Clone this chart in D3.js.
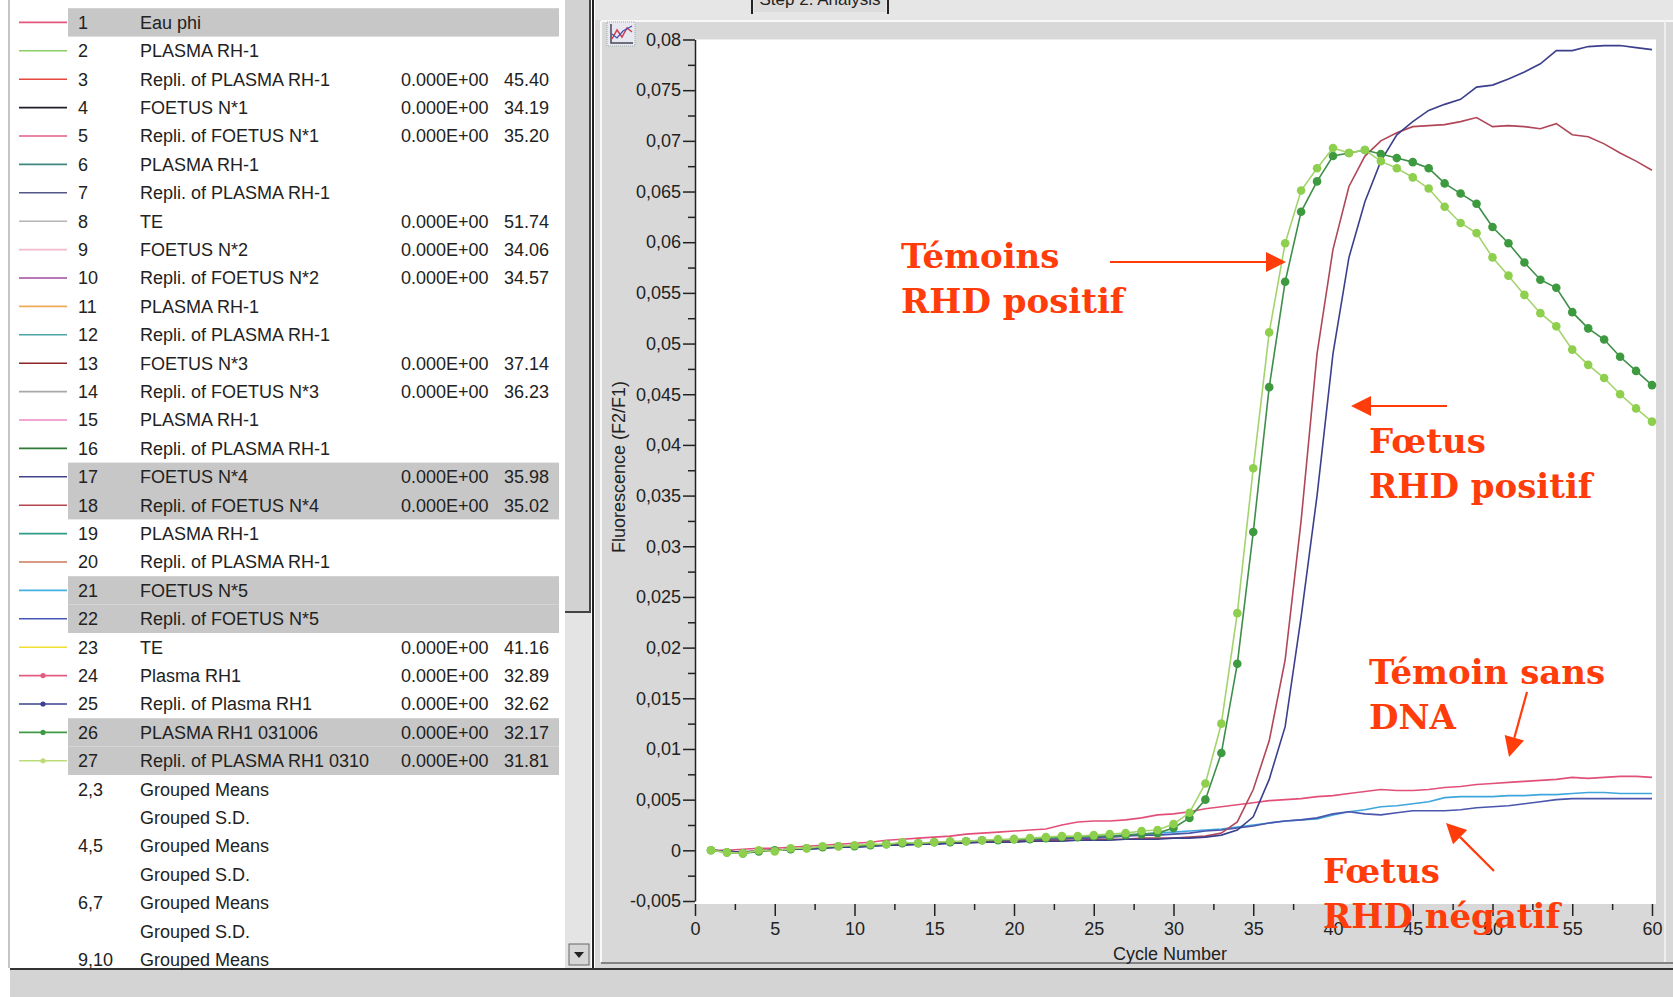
<!DOCTYPE html>
<html>
<head>
<meta charset="utf-8">
<script src="https://cdn.jsdelivr.net/npm/d3@7"></script>
<style>
  html, body { margin: 0; padding: 0; background: #fff; }
  svg { display: block; }
  .ui { font-family: "Liberation Sans", Arial, sans-serif; fill: #222; }
  .note { font-family: "DejaVu Serif", serif; font-weight: bold; fill: #ff3c0a; }
</style>
</head>
<body>
<svg id="chart" width="1673" height="997"></svg>
<script>
// cycles 1..60
var cycles = d3.range(1, 61);

// fluorescence F2/F1, one value per cycle
var eauPhi = [0, 0, 0.0001, 0.0002, 0.0002, 0.0003, 0.0004, 0.0005, 0.0006, 0.0007,
  0.0008, 0.0010, 0.0011, 0.0012, 0.0013, 0.0014, 0.0016, 0.0017, 0.0018, 0.0019,
  0.0020, 0.0021, 0.0025, 0.0028, 0.0029, 0.0029, 0.0030, 0.0032, 0.0035, 0.0036,
  0.0038, 0.0041, 0.0043, 0.0045, 0.0047, 0.0049, 0.0050, 0.0051, 0.0053, 0.0054,
  0.0056, 0.0058, 0.0060, 0.0059, 0.0059, 0.0060, 0.0062, 0.0063, 0.0065, 0.0066,
  0.0067, 0.0068, 0.0069, 0.0070, 0.0072, 0.0071, 0.0072, 0.0073, 0.0073, 0.0072];

var foetus4 = [0, -0.0001, -0.0002, -0.0001, 0, 0.0001, 0.0001, 0.0002, 0.0003, 0.0003,
  0.0004, 0.0005, 0.0005, 0.0006, 0.0006, 0.0007, 0.0007, 0.0008, 0.0008, 0.0008,
  0.0009, 0.0009, 0.0009, 0.0010, 0.0010, 0.0010, 0.0011, 0.0011, 0.0011, 0.0012,
  0.0012, 0.0013, 0.0015, 0.0020, 0.0033, 0.0070, 0.0122, 0.0230, 0.0350, 0.0490,
  0.0585, 0.0640, 0.0680, 0.0706, 0.0719, 0.0730, 0.0736, 0.0741, 0.0753, 0.0755,
  0.0761, 0.0768, 0.0776, 0.0789, 0.0789, 0.0793, 0.0794, 0.0794, 0.0792, 0.0790];

var foetus4Repli = [0, -0.0001, -0.0002, 0, 0, 0.0001, 0.0002, 0.0003, 0.0003, 0.0004,
  0.0005, 0.0005, 0.0006, 0.0006, 0.0007, 0.0007, 0.0008, 0.0008, 0.0009, 0.0009,
  0.0009, 0.0010, 0.0010, 0.0010, 0.0011, 0.0011, 0.0011, 0.0012, 0.0012, 0.0012,
  0.0013, 0.0014, 0.0017, 0.0028, 0.0060, 0.0108, 0.0188, 0.0325, 0.0490, 0.0593,
  0.0655, 0.0685, 0.0700, 0.0708, 0.0714, 0.0715, 0.0716, 0.0719, 0.0723, 0.0714,
  0.0715, 0.0714, 0.0712, 0.0717, 0.0706, 0.0704, 0.0697, 0.0688, 0.0680, 0.0671];

var foetus5 = [0, -0.0001, -0.0002, 0, 0, 0.0001, 0.0002, 0.0003, 0.0003, 0.0004,
  0.0005, 0.0005, 0.0006, 0.0007, 0.0007, 0.0008, 0.0009, 0.0009, 0.0010, 0.0010,
  0.0011, 0.0012, 0.0012, 0.0013, 0.0014, 0.0014, 0.0015, 0.0016, 0.0017, 0.0018,
  0.0019, 0.0020, 0.0021, 0.0023, 0.0025, 0.0027, 0.0029, 0.0030, 0.0031, 0.0035,
  0.0038, 0.0040, 0.0043, 0.0044, 0.0046, 0.0048, 0.0052, 0.0053, 0.0053, 0.0053,
  0.0054, 0.0054, 0.0055, 0.0055, 0.0056, 0.0057, 0.0057, 0.0056, 0.0056, 0.0056];

var foetus5Repli = [0, -0.0001, -0.0002, -0.0001, 0, 0.0001, 0.0001, 0.0002, 0.0003, 0.0003,
  0.0004, 0.0005, 0.0005, 0.0006, 0.0006, 0.0007, 0.0008, 0.0008, 0.0009, 0.0009,
  0.0010, 0.0011, 0.0011, 0.0012, 0.0012, 0.0013, 0.0014, 0.0015, 0.0015, 0.0016,
  0.0017, 0.0019, 0.0020, 0.0022, 0.0024, 0.0027, 0.0029, 0.0030, 0.0032, 0.0036,
  0.0038, 0.0036, 0.0035, 0.0037, 0.0039, 0.0039, 0.0039, 0.0040, 0.0042, 0.0043,
  0.0044, 0.0046, 0.0048, 0.0050, 0.0051, 0.0051, 0.0051, 0.0051, 0.0051, 0.0051];

var plasma031006 = [0, -0.0002, -0.0003, -0.0001, 0, 0.0001, 0.0002, 0.0003, 0.0004, 0.0004,
  0.0005, 0.0006, 0.0007, 0.0007, 0.0008, 0.0008, 0.0009, 0.0010, 0.0010, 0.0011,
  0.0011, 0.0012, 0.0013, 0.0013, 0.0014, 0.0014, 0.0015, 0.0016, 0.0017, 0.0022,
  0.0032, 0.0050, 0.0096, 0.0184, 0.0314, 0.0457, 0.0561, 0.0630, 0.0660, 0.0685,
  0.0688, 0.0691, 0.0687, 0.0683, 0.0679, 0.0673, 0.0658, 0.0648, 0.0638, 0.0615,
  0.0599, 0.0580, 0.0563, 0.0555, 0.0531, 0.0515, 0.0504, 0.0487, 0.0473, 0.0459];

var plasma0310Repli = [0, -0.0002, -0.0003, 0, -0.0001, 0.0002, 0.0002, 0.0004, 0.0004, 0.0005,
  0.0006, 0.0006, 0.0008, 0.0007, 0.0008, 0.0009, 0.0009, 0.0010, 0.0011, 0.0011,
  0.0012, 0.0013, 0.0014, 0.0014, 0.0015, 0.0016, 0.0017, 0.0019, 0.0020, 0.0026,
  0.0037, 0.0066, 0.0125, 0.0234, 0.0377, 0.0511, 0.0599, 0.0651, 0.0673, 0.0693,
  0.0688, 0.0691, 0.0680, 0.0673, 0.0664, 0.0653, 0.0635, 0.0619, 0.0609, 0.0585,
  0.0567, 0.0548, 0.0530, 0.0517, 0.0494, 0.0479, 0.0466, 0.0450, 0.0436, 0.0423];

// sample table
var sampleIds = ["1","2","3","4","5","6","7","8","9","10","11","12","13","14","15","16","17","18",
  "19","20","21","22","23","24","25","26","27","2,3","","4,5","","6,7","","9,10"];
var sampleNames = ["Eau phi","PLASMA RH-1","Repli. of PLASMA RH-1","FOETUS N*1","Repli. of FOETUS N*1",
  "PLASMA RH-1","Repli. of PLASMA RH-1","TE","FOETUS N*2","Repli. of FOETUS N*2","PLASMA RH-1",
  "Repli. of PLASMA RH-1","FOETUS N*3","Repli. of FOETUS N*3","PLASMA RH-1","Repli. of PLASMA RH-1",
  "FOETUS N*4","Repli. of FOETUS N*4","PLASMA RH-1","Repli. of PLASMA RH-1","FOETUS N*5",
  "Repli. of FOETUS N*5","TE","Plasma RH1","Repli. of Plasma RH1","PLASMA RH1 031006",
  "Repli. of PLASMA RH1 0310","Grouped Means","Grouped S.D.","Grouped Means","Grouped S.D.",
  "Grouped Means","Grouped S.D.","Grouped Means"];
var sampleConc = ["","","0.000E+00","0.000E+00","0.000E+00","","","0.000E+00","0.000E+00","0.000E+00",
  "","","0.000E+00","0.000E+00","","","0.000E+00","0.000E+00","","","","","0.000E+00","0.000E+00",
  "0.000E+00","0.000E+00","0.000E+00"];
var sampleCt = ["","","45.40","34.19","35.20","","","51.74","34.06","34.57","","","37.14","36.23",
  "","","35.98","35.02","","","","","41.16","32.89","32.62","32.17","31.81"];
var sampleColors = ["#e4587c","#8ccc64","#e8483c","#1e1e28","#e05c80","#3f8580","#55578a","#b4b4b4",
  "#f2bccb","#a04a9e","#f0aa58","#4aa6a8","#8e2428","#a8a8a8","#ee88c4","#2f7a36","#42448e","#b4444e",
  "#2f9a86","#c87a58","#44b0e4","#4656b4","#f0e030","#e45c80","#3e4090","#3f9a44","#bcdc78"];
var selectedRows = ["1","17","18","21","22","26","27"];
var markerRows = ["24","25","26","27"];

// plotted curves
var curves = [
  {id: "1",  values: eauPhi,          color: "#e2507a", dots: null},
  {id: "21", values: foetus5,         color: "#3ea6dc", dots: null},
  {id: "22", values: foetus5Repli,    color: "#4b55ad", dots: null},
  {id: "18", values: foetus4Repli,    color: "#b04758", dots: null},
  {id: "17", values: foetus4,         color: "#3c3f8c", dots: null},
  {id: "26", values: plasma031006,    color: "#3f8f4a", dots: "#3d9a3f"},
  {id: "27", values: plasma0310Repli, color: "#a3d46c", dots: "#8ecf4e"}
];

var svg = d3.select("#chart");
var W = 1673, H = 997;

// ---------- window chrome ----------
svg.append("rect").attr("x", 0).attr("y", 0).attr("width", W).attr("height", H).attr("fill", "#fff");
svg.append("line").attr("x1", 9).attr("x2", 9).attr("y1", 0).attr("y2", 968).attr("stroke", "#8a8a8a");

// scrollbar
svg.append("rect").attr("x", 565).attr("y", 0).attr("width", 26).attr("height", 968).attr("fill", "#e4e4e4");
svg.append("rect").attr("x", 565).attr("y", 0).attr("width", 25).attr("height", 612).attr("fill", "#d2d2d2");
svg.append("path").attr("d", "M565,612H590V0").attr("fill", "none").attr("stroke", "#444").attr("stroke-width", 2);
svg.append("rect").attr("x", 569).attr("y", 944).attr("width", 20).attr("height", 21)
  .attr("fill", "#d6d6d6").attr("stroke", "#666");
svg.append("path").attr("d", "M574,952L584,952L579,958Z").attr("fill", "#222");
svg.append("line").attr("x1", 593).attr("x2", 593).attr("y1", 0).attr("y2", 968).attr("stroke", "#222").attr("stroke-width", 2);

// right panel
svg.append("rect").attr("x", 595).attr("y", 0).attr("width", W - 595).attr("height", 968).attr("fill", "#d8d8d8");
svg.append("rect").attr("x", 595).attr("y", 0).attr("width", W - 595).attr("height", 20).attr("fill", "#e6e6e6");
svg.append("line").attr("x1", 601).attr("x2", W).attr("y1", 21).attr("y2", 21).attr("stroke", "#f8f8f8").attr("stroke-width", 2);
svg.append("line").attr("x1", 601).attr("x2", 601).attr("y1", 21).attr("y2", 962).attr("stroke", "#f8f8f8").attr("stroke-width", 2);
svg.append("line").attr("x1", 601).attr("x2", W).attr("y1", 963).attr("y2", 963).attr("stroke", "#666").attr("stroke-width", 1.5);
svg.append("line").attr("x1", 1665).attr("x2", 1665).attr("y1", 21).attr("y2", 962).attr("stroke", "#eee").attr("stroke-width", 2);

// tab at the top (cut off)
svg.append("path").attr("d", "M752,0V14M888,0V14").attr("stroke", "#222").attr("stroke-width", 2);
svg.append("rect").attr("x", 754).attr("y", 0).attr("width", 132).attr("height", 12).attr("fill", "#dcdcdc");
svg.append("text").attr("class", "ui").attr("x", 820).attr("y", 5).attr("text-anchor", "middle")
  .style("font-size", "17px").text("Step 2: Analysis");

// chart icon
var icon = svg.append("g").attr("transform", "translate(607,22)");
icon.append("rect").attr("width", 28).attr("height", 24).attr("fill", "#e8e8f0").attr("stroke", "#9aa").attr("stroke-dasharray", "1,1");
icon.append("path").attr("d", "M4,2V21H26").attr("fill", "none").attr("stroke", "#445").attr("stroke-width", 1.5);
icon.append("path").attr("d", "M5,17L10,8L15,15L20,6L25,10").attr("fill", "none").attr("stroke", "#d04050").attr("stroke-width", 1.5);
icon.append("path").attr("d", "M5,12L10,16L16,9L25,4").attr("fill", "none").attr("stroke", "#4050b0").attr("stroke-width", 1.2);

// status bar
svg.append("rect").attr("x", 10).attr("y", 969).attr("width", W - 10).attr("height", H - 969).attr("fill", "#d4d4d4");
svg.append("line").attr("x1", 10).attr("x2", W).attr("y1", 969).attr("y2", 969).attr("stroke", "#333").attr("stroke-width", 2);

// ---------- sample table ----------
var rowY = d3.scaleLinear().domain([0, 1]).range([22.4, 50.8]);
var table = svg.append("g").attr("class", "ui").style("font-size", "18px");

table.selectAll("rect.sel").data(sampleIds.filter(function (d) { return selectedRows.indexOf(d) >= 0; }))
  .join("rect").attr("class", "sel")
  .attr("x", 68).attr("width", 491)
  .attr("y", function (d) { return rowY(sampleIds.indexOf(d)) - 14.2; })
  .attr("height", 28.4).attr("fill", "#c7c7c7");

var rows = table.selectAll("g.row").data(sampleIds).join("g").attr("class", "row")
  .attr("transform", function (d, i) { return "translate(0," + rowY(i) + ")"; });

rows.filter(function (d, i) { return i < sampleColors.length; })
  .append("line").attr("x1", 19).attr("x2", 67)
  .attr("stroke", function (d, i) { return sampleColors[i]; }).attr("stroke-width", 1.6);
rows.filter(function (d) { return markerRows.indexOf(d) >= 0; })
  .append("circle").attr("cx", 43).attr("r", 2.6)
  .attr("fill", function (d) { return sampleColors[sampleIds.indexOf(d)]; });

rows.append("text").attr("x", 78).attr("dy", "0.35em").text(function (d) { return d; });
rows.append("text").attr("x", 140).attr("dy", "0.35em").text(function (d, i) { return sampleNames[i]; });
rows.append("text").attr("x", 401).attr("dy", "0.35em").text(function (d, i) { return sampleConc[i] || ""; });
rows.append("text").attr("x", 549).attr("dy", "0.35em").attr("text-anchor", "end")
  .text(function (d, i) { return sampleCt[i] || ""; });

// ---------- amplification chart ----------
var x = d3.scaleLinear().domain([0, 60]).range([695, 1652]);
var y = d3.scaleLinear().domain([-0.005, 0.08]).range([901, 39.5]);

svg.append("rect").attr("x", 695).attr("y", 39.5).attr("width", 961).attr("height", 864.5).attr("fill", "#fff");

var fmt = function (d) { return String(+d.toFixed(3)).replace(".", ","); };
var yMajor = y.ticks(17);
var yMinor = yMajor.slice(1).map(function (t, i) { return (t + yMajor[i]) / 2; });
var xMajor = x.ticks(12);
var xMinor = xMajor.slice(1).map(function (t, i) { return (t + xMajor[i]) / 2; });

var yAxis = svg.append("g").attr("class", "ui").attr("transform", "translate(695,0)")
  .call(d3.axisLeft(y).tickValues(yMajor).tickSize(12).tickSizeOuter(0).tickPadding(2).tickFormat(fmt));
yAxis.selectAll("text").style("font-size", "18px").attr("fill", "#222");
yAxis.selectAll("line, path").attr("stroke", "#222").attr("stroke-width", 1.5);
svg.append("g").attr("transform", "translate(695,0)")
  .call(d3.axisLeft(y).tickValues(yMinor).tickSize(7).tickFormat(""))
  .call(function (g) { g.select(".domain").remove(); })
  .selectAll("line").attr("stroke", "#222").attr("stroke-width", 1.5);

var xAxis = svg.append("g").attr("class", "ui").attr("transform", "translate(0,904)")
  .call(d3.axisBottom(x).tickValues(xMajor).tickSize(12).tickPadding(6).tickFormat(d3.format("d")))
  .call(function (g) { g.select(".domain").remove(); });
xAxis.selectAll("text").style("font-size", "18px").attr("fill", "#222");
xAxis.selectAll("line").attr("stroke", "#222").attr("stroke-width", 1.5);
svg.append("g").attr("transform", "translate(0,904)")
  .call(d3.axisBottom(x).tickValues(xMinor).tickSize(6).tickFormat(""))
  .call(function (g) { g.select(".domain").remove(); })
  .selectAll("line").attr("stroke", "#222").attr("stroke-width", 1.5);

svg.append("text").attr("class", "ui").attr("x", 1170).attr("y", 960).attr("text-anchor", "middle")
  .style("font-size", "18px").text("Cycle Number");
svg.append("text").attr("class", "ui").attr("transform", "translate(625,467) rotate(-90)")
  .attr("text-anchor", "middle").style("font-size", "18px").text("Fluorescence (F2/F1)");

// curves
var line = d3.line().x(function (d, i) { return x(cycles[i]); }).y(function (d) { return y(d); });
var plot = svg.append("g");
curves.forEach(function (c) {
  plot.append("path").attr("d", line(c.values)).attr("fill", "none")
    .attr("stroke", c.color).attr("stroke-width", 1.6);
  if (c.dots) {
    plot.append("g").selectAll("circle").data(c.values).join("circle")
      .attr("cx", function (d, i) { return x(cycles[i]); })
      .attr("cy", function (d) { return y(d); })
      .attr("r", 4.3).attr("fill", c.dots);
  }
});

// ---------- annotations ----------
var notes = [
  {lines: ["Témoins", "RHD positif"], x: 901, y: 268},
  {lines: ["Fœtus", "RHD positif"], x: 1369, y: 453},
  {lines: ["Témoin sans", "DNA"], x: 1369, y: 684},
  {lines: ["Fœtus", "RHD négatif"], x: 1323, y: 883}
];
notes.forEach(function (n) {
  var t = svg.append("text").attr("class", "note").style("font-size", "34px");
  n.lines.forEach(function (s, i) {
    t.append("tspan").attr("x", n.x).attr("y", n.y + i * 44.5).text(s);
  });
});

var arrows = [[1110, 262, 1286, 262], [1447, 406, 1351, 406], [1527, 692, 1509, 757], [1494, 871, 1446, 823]];
arrows.forEach(function (a) {
  var ang = Math.atan2(a[3] - a[1], a[2] - a[0]);
  var len = 20, half = 10;
  var bx = a[2] - len * Math.cos(ang), by = a[3] - len * Math.sin(ang);
  svg.append("line").attr("x1", a[0]).attr("y1", a[1]).attr("x2", bx).attr("y2", by)
    .attr("stroke", "#ff3c0a").attr("stroke-width", 2.2);
  svg.append("path").attr("fill", "#ff3c0a").attr("d",
    "M" + a[2] + "," + a[3] +
    "L" + (bx + half * Math.sin(ang)) + "," + (by - half * Math.cos(ang)) +
    "L" + (bx - half * Math.sin(ang)) + "," + (by + half * Math.cos(ang)) + "Z");
});
</script>
</body>
</html>
